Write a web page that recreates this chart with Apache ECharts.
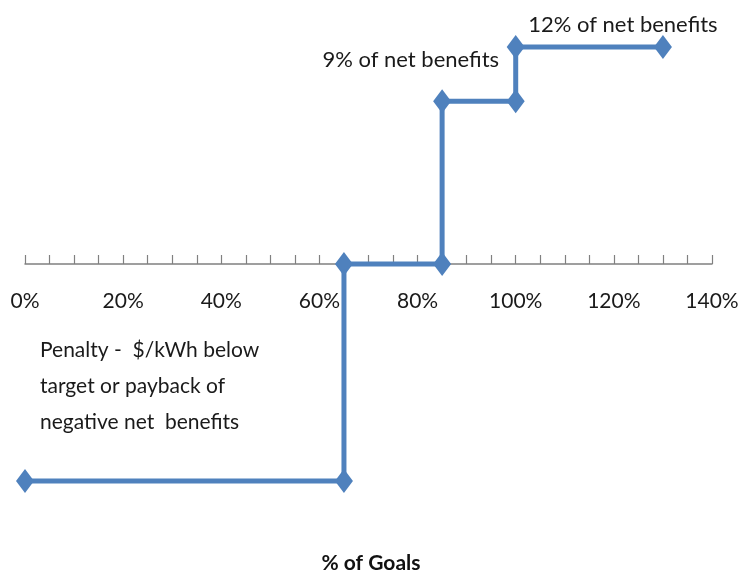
<!DOCTYPE html>
<html>
<head>
<meta charset="utf-8">
<script src="https://cdn.jsdelivr.net/npm/echarts@6/dist/echarts.min.js"></script>
<style>
  html, body { margin: 0; padding: 0; background: #fff; }
  #chart { width: 742px; height: 574px; }
</style>
</head>
<body>
<div id="chart"></div>
<script>
// Incentive schedule: % of goals achieved vs. reward / penalty level
const goalPct = [0, 65, 65, 85, 85, 100, 100, 130];
const rewardLevel = [-12, -12, 0, 0, 9, 9, 12, 12];
const xTickLabels = ['0%', '20%', '40%', '60%', '80%', '100%', '120%', '140%'];
const noteNine = '9% of net benefits';
const noteTwelve = '12% of net benefits';
const notePenalty = ['Penalty -  $/kWh below', 'target or payback of', 'negative net  benefits'];
const axisTitle = '% of Goals';

const FONT = 'Lato';
const BLUE = '#4f81bd';
const Y_MIN = -13, Y_MAX = 13;
const GRID_TOP = 29, GRID_BOTTOM = 75, CHART_H = 574;

// distance from the bottom of the grid up to the y = 0 line
const plotH = CHART_H - GRID_TOP - GRID_BOTTOM;
const zeroLift = plotH * (0 - Y_MIN) / (Y_MAX - Y_MIN);

const points = goalPct.map((x, i) => {
  const item = { value: [x, rewardLevel[i]] };
  if (i === 0) {
    item.label = {
      show: true, position: 'right', distance: 5,
      offset: [1, -95], lineHeight: 36, fontSize: 21,
      formatter: notePenalty.join('\n')
    };
  } else if (i === 6) {
    item.label = {
      show: true, position: 'inside',
      offset: [-105, 13], formatter: noteNine
    };
  } else if (i === 7) {
    item.label = {
      show: true, position: 'inside',
      offset: [-40, -22], formatter: noteTwelve
    };
  }
  return item;
});

const chart = echarts.init(document.getElementById('chart'));
chart.setOption({
  animation: false,
  backgroundColor: '#fff',
  textStyle: { fontFamily: FONT },
  title: {
    text: axisTitle,
    left: 'center',
    top: 548,
    textStyle: { fontFamily: FONT, fontWeight: 'bold', fontSize: 21, color: '#111' }
  },
  grid: { left: 25, right: 30, top: GRID_TOP, bottom: GRID_BOTTOM },
  xAxis: {
    type: 'value',
    min: 0, max: 140, interval: 5,
    position: 'bottom',
    offset: -zeroLift,
    axisLine: { onZero: false, lineStyle: { color: '#808080', width: 1.5 } },
    axisTick: { show: true, inside: true, length: 9, lineStyle: { color: '#808080', width: 1.2 } },
    axisLabel: {
      margin: 27,
      fontSize: 21,
      color: '#1a1a1a',
      fontFamily: FONT,
      formatter: v => (v % 20 === 0 ? xTickLabels[v / 20] : '')
    },
    splitLine: { show: false }
  },
  yAxis: {
    type: 'value',
    min: Y_MIN, max: Y_MAX,
    show: false
  },
  series: [{
    type: 'line',
    data: points,
    lineStyle: { color: BLUE, width: 5 },
    itemStyle: { color: BLUE },
    symbol: 'diamond',
    symbolSize: [18, 24],
    z: 5,
    label: {
      color: '#1a1a1a',
      fontSize: 22,
      fontFamily: FONT
    }
  }]
});
</script>
</body>
</html>
